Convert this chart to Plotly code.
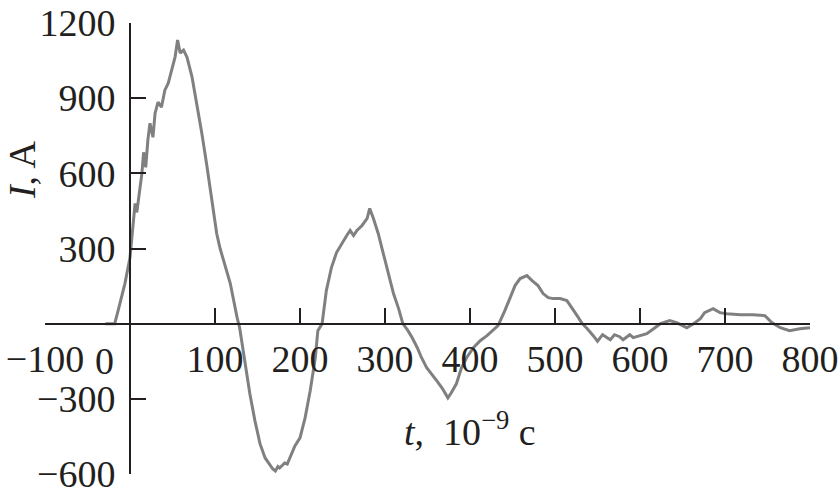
import plotly.graph_objects as go

# time, 10^-9 s
t_ns = [
    -29, -18, -14, -6, 0, 4, 6, 8, 12, 14, 16, 18.5, 21, 23.5, 27, 29.5,
    33, 37, 41, 45, 49, 53, 56, 59, 63, 67, 73, 78.5, 84.5, 90, 96, 102,
    106, 118, 126, 129, 135, 141, 147, 153, 159, 165, 168, 171, 174, 176,
    182, 185, 188, 194, 200, 206, 212, 218, 221, 226, 231, 237, 243, 249,
    255, 259, 263, 267, 273, 279, 282, 286, 292, 298, 304, 310, 316, 321,
    327, 332, 338, 343, 349, 355, 361, 367, 374, 378, 384, 390, 396, 404,
    412, 420, 427, 433, 441, 447, 453, 459, 467, 473, 480, 486, 492, 498,
    506, 514, 520, 526, 532, 538, 545, 550, 556, 561, 565, 570, 576, 580,
    588, 592, 600, 608, 616, 624, 635, 643, 655, 663, 671, 676, 686, 694,
    702, 718, 733, 747, 755, 765, 776, 788, 800,
]
# current, A
current_a = [
    0, 0, 52, 160, 264, 424, 480, 444, 544, 600, 684, 624, 732, 800, 744, 840,
    884, 864, 932, 960, 1012, 1064, 1132, 1080, 1092, 1064, 984, 880, 760, 640, 504, 360,
    300, 160, 24, -16, -148, -280, -388, -480, -536, -568, -580, -588, -570, -576,
    -556, -560, -536, -488, -456, -376, -268, -136, -28, 0, 132, 224, 284, 320,
    352, 372, 352, 372, 392, 420, 460, 424, 360, 280, 200, 120, 60, 0,
    -28, -56, -96, -136, -176, -200, -228, -256, -296, -276, -240, -176, -136, -96,
    -68, -48, -28, -8, 52, 104, 152, 180, 192, 172, 152, 120, 104, 100,
    100, 92, 64, 32, 0, -20, -48, -70, -44, -56, -64, -44, -52, -64,
    -44, -56, -48, -40, -20, 0, 12, 4, -16, 0, 20, 44, 60, 44,
    40, 36, 36, 32, 4, -16, -28, -20, -16,
]

x_ticks = [-100, 0, 100, 200, 300, 400, 500, 600, 700, 800]
x_labels = ["\u2212100", " ", "100", "200", "300", "400", "500", "600", "700", "800"]
y_ticks = [-600, -300, 0, 300, 600, 900, 1200]
y_labels = ["\u2212600", "\u2212300", " ", "300", "600", "900", "1200"]

ink = "#231f20"
serif = "Liberation Serif"
text_size = 38

axis_style = {
    "anchor": "free",
    "ticks": "inside",
    "ticklen": 15,
    "tickwidth": 2,
    "tickcolor": ink,
    "showline": True,
    "linecolor": ink,
    "linewidth": 2,
    "showgrid": False,
    "zeroline": False,
    "automargin": False,
}

fig = go.Figure()
fig.add_trace(
    go.Scatter(
        x=t_ns,
        y=current_a,
        mode="lines",
        line={"color": "rgb(128,128,128)", "width": 3},
        hoverinfo="skip",
    )
)

fig.update_layout(
    width=840,
    height=499,
    margin={"l": 45, "r": 30, "t": 23, "b": 25},
    paper_bgcolor="white",
    plot_bgcolor="white",
    showlegend=False,
    font={"family": serif, "size": text_size, "color": ink},
    xaxis={
        **axis_style,
        "range": [-100, 800],
        "position": 1 / 3,
        "tickvals": x_ticks,
        "ticktext": x_labels,
        "ticklabelstandoff": 2,
    },
    yaxis={
        **axis_style,
        "range": [-600, 1200],
        "position": 1 / 9,
        "tickvals": y_ticks,
        "ticktext": y_labels,
        "ticklabelstandoff": 6,
    },
)

# the x "0" label sits left of the y axis
fig.add_annotation(
    x=-30, y=-150, xref="x", yref="y", text="0", showarrow=False,
    xanchor="center", yanchor="middle",
    font={"family": serif, "size": text_size, "color": ink},
)
# axis titles
fig.add_annotation(
    x=400, y=-420, xref="x", yref="y",
    text="<i>t</i>,\u00a0\u00a010<sup>\u22129</sup>\u00a0c",
    showarrow=False, xanchor="center", yanchor="middle",
    font={"family": serif, "size": text_size, "color": ink},
)
fig.add_annotation(
    x=-0.03, y=0.674, xref="paper", yref="paper",
    text="<i>I</i>, A", textangle=-90, showarrow=False,
    xanchor="center", yanchor="middle",
    font={"family": serif, "size": text_size, "color": ink},
)

# drop the default page margin so the figure fills the window exactly
fig.write_html(
    "out.html",
    config={"displayModeBar": False},
    post_script="document.body.style.margin = '0';",
)
